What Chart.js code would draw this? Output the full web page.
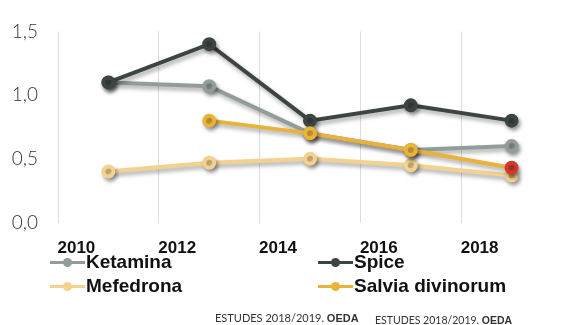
<!DOCTYPE html>
<html>
<head>
<meta charset="utf-8">
<script src="https://cdn.jsdelivr.net/npm/chart.js@4"></script>
<style>
  body { margin: 0; background: #fff; overflow: hidden; }
  #wrap { position: relative; width: 562px; height: 325px; overflow: hidden; }
  #grafico { display: block; }
  #legend {
    position: absolute; left: 50px; top: 252px;
    display: grid; grid-template-columns: 268px 200px; row-gap: 4px;
    font: bold 19px "Liberation Sans", Arial, sans-serif; color: #111;
  }
  #legend .item { display: flex; align-items: center; height: 20px; white-space: nowrap; }
  #legend .mark { position: relative; width: 35px; height: 20px; margin-right: 1px; }
  #legend .mark:before { content: ""; position: absolute; left: 0; right: 0; top: 9px; height: 3px; background: var(--c); }
  #legend .mark:after { content: ""; position: absolute; left: 13px; top: 6px; width: 9px; height: 9px; border-radius: 50%; background: var(--c); }
  .src { position: absolute; font: 11px "Lato", sans-serif; color: #333; white-space: nowrap; }
  .src b { font-family: "Liberation Sans", sans-serif; }
</style>
</head>
<body>
<div id="wrap">
  <!-- canvas runs a little past the right edge so the last column reaches it -->
  <canvas id="grafico" width="571" height="325"></canvas>
  <div id="legend"></div>
  <div class="src" style="left:215px; top:311px">ESTUDES 2018/2019. <b>OEDA</b></div>
  <div class="src" style="left:375px; top:314px; font-size:10.5px">ESTUDES 2018/2019. <b>OEDA</b></div>
</div>
<script>
var years = ["2010", "2012", "2014", "2016", "2018"];
var yTicks = [0, 0.5, 1, 1.5];

var ketamina = [1.10, 1.07, 0.70, 0.57, 0.60];
var spice = [1.10, 1.40, 0.80, 0.92, 0.80];
var mefedrona = [0.40, 0.47, 0.50, 0.45, 0.37];
var salvia = [null, 0.80, 0.70, 0.57, 0.43];

// soft drop shadow under the lines
var sombra = {
  id: 'sombra',
  beforeDatasetsDraw: function (chart) {
    var ctx = chart.ctx;
    ctx.save();
    ctx.shadowColor = 'rgba(0,0,0,0.35)';
    ctx.shadowBlur = 4;
    ctx.shadowOffsetX = 2;
    ctx.shadowOffsetY = 3;
  },
  afterDatasetsDraw: function (chart) {
    chart.ctx.restore();
  }
};

function serie(label, data, color, order) {
  return {
    label: label,
    data: data,
    borderColor: color,
    backgroundColor: color,
    pointBackgroundColor: color,
    pointBorderColor: color,
    borderWidth: 4,
    pointRadius: 5,
    pointHoverRadius: 5,
    tension: 0,
    order: order
  };
}

var datasets = [
  serie('Ketamina', ketamina, '#929d98', 3),
  serie('Spice', spice, '#3d4543', 2),
  serie('Mefedrona', mefedrona, '#f2d28e', 4),
  serie('Salvia divinorum', salvia, '#e9b23a', 1)
];
// last Salvia point highlighted in red
datasets[3].pointBackgroundColor = salvia.map(function (v, i) { return i == salvia.length - 1 ? '#cf3a2a' : '#e9b23a'; });
datasets[3].pointBorderColor = datasets[3].pointBackgroundColor;

var ctx = document.getElementById('grafico').getContext('2d');
var chart = new Chart(ctx, {
  type: 'line',
  data: { labels: years, datasets: datasets },
  plugins: [sombra],
  options: {
    responsive: false,
    animation: false,
    layout: { padding: { top: 19, right: 0, bottom: 50, left: 0 } },
    plugins: {
      legend: { display: false },
      tooltip: { enabled: false }
    },
    scales: {
      x: {
        offset: true,
        afterFit: function (axis) { axis.paddingLeft = 0; axis.paddingRight = 0; },
        grid: {
          offset: true,
          drawTicks: false,
          color: function (c) { return c.index >= years.length ? 'rgba(0,0,0,0)' : '#dcdcdc'; }
        },
        border: { display: false },
        ticks: {
          padding: 16,
          labelOffset: -32,
          maxRotation: 0,
          color: '#111',
          font: { family: 'Liberation Sans', size: 17, weight: 'bold' }
        }
      },
      y: {
        min: 0,
        max: 1.5,
        afterBuildTicks: function (axis) { axis.ticks = yTicks.map(function (v) { return { value: v }; }); },
        afterFit: function (axis) { axis.width = 58; },
        grid: { display: false, drawTicks: false },
        border: { display: false },
        ticks: {
          padding: 20,
          color: '#333',
          font: { family: 'Lato', size: 19, weight: '300' },
          callback: function (v) { return v.toFixed(1).replace('.', ','); }
        }
      }
    }
  }
});

// legend in two columns, built from the datasets
var html = '';
chart.data.datasets.forEach(function (ds) {
  html += '<div class="item"><span class="mark" style="--c:' + ds.borderColor + '"></span>' + ds.label + '</div>';
});
document.getElementById('legend').innerHTML = html;
</script>
</body>
</html>
